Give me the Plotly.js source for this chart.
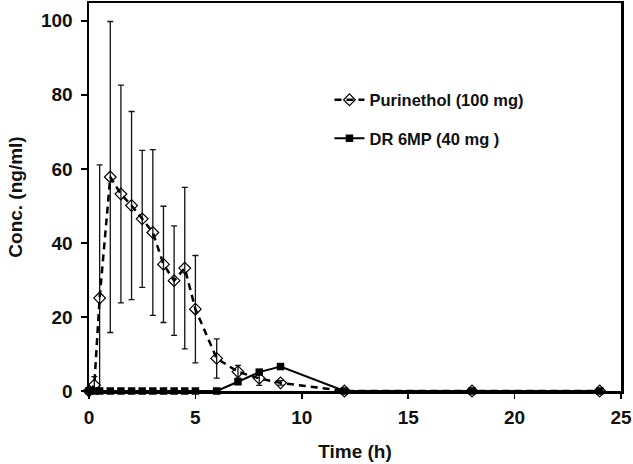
<!DOCTYPE html>
<html>
<head>
<meta charset="utf-8">
<script src="https://cdn.plot.ly/plotly-3.0.1.min.js"></script>
<style>html,body{margin:0;padding:0;background:#fff}#chart{width:633px;height:464px}</style>
</head>
<body>
<div id="chart"></div>
<script>
// Time points (h)
const timePur = [0, 0.25, 0.5, 1, 1.5, 2, 2.5, 3, 3.5, 4, 4.5, 5, 6, 7, 8, 9, 12, 18, 24];
const concPur = [0, 1.6, 25.1, 57.8, 53.2, 50.1, 46.5, 42.8, 34.2, 29.8, 33.2, 22.1, 8.8, 5.2, 3.4, 2.2, 0, 0, 0];
const sdPur   = [0, 2.3, 36, 42, 29.4, 25.4, 18.5, 22.4, 15.7, 14.8, 21.8, 14.5, 5.3, 1.7, 1.9, 0.6, 0, 0, 0];

const timeDR = [0, 0.25, 0.5, 1, 1.5, 2, 2.5, 3, 3.5, 4, 4.5, 5, 6, 7, 8, 9, 12, 18, 24];
const concDR = [0, 0, 0, 0, 0, 0, 0, 0, 0, 0, 0, 0, 0, 2.5, 5.1, 6.6, 0, 0, 0];

const nameDR = 'DR 6MP (40 mg )';
const namePur = 'Purinethol (100 mg)';

const xTicks = [0, 5, 10, 15, 20, 25];
const yTicks = [0, 20, 40, 60, 80, 100];

const fam = 'Arial, "Liberation Sans", sans-serif';

const traces = [
  {
    x: timePur, y: concPur, name: namePur, type: 'scatter', mode: 'lines+markers',
    legendgroup: 'a',
    line: {color: '#000', width: 2.5, dash: '7px,5px'},
    marker: {symbol: 'diamond-open', size: 9, color: '#000', line: {width: 1.2, color: '#000'}},
    error_y: {type: 'data', array: sdPur, visible: true, color: '#111', thickness: 1.3, width: 3},
    cliponaxis: false
  },
  {
    x: timeDR, y: concDR, name: nameDR, type: 'scatter', mode: 'lines+markers',
    legendgroup: 'b',
    line: {color: '#000', width: 2, dash: 'solid'},
    marker: {symbol: 'square', size: 7.5, color: '#000'},
    cliponaxis: false
  }
];

const layout = {
  width: 633, height: 464,
  margin: {l: 89, r: 12, t: 3, b: 73},
  paper_bgcolor: '#fff', plot_bgcolor: '#fff',
  showlegend: true,
  legend: {
    x: 0.452, y: 0.795, xanchor: 'left', yanchor: 'top',
    font: {family: fam, size: 16.5, color: '#111', weight: 'bold'},
    traceorder: 'grouped', tracegroupgap: 14,
    bgcolor: 'rgba(0,0,0,0)', itemwidth: 30
  },
  xaxis: {
    range: [0, 25], tickvals: xTicks, ticktext: xTicks.map(String),
    showgrid: false, zeroline: false,
    showline: true, linecolor: '#000', linewidth: 2.5, mirror: true,
    ticks: 'outside', ticklen: 5, tickwidth: 1.5, tickcolor: '#000',
    ticklabelstandoff: 3,
    tickfont: {family: fam, size: 19, color: '#111', weight: 'bold'},
    title: {text: 'Time (h)', font: {family: fam, size: 19, color: '#111', weight: 'bold'}, standoff: 18}
  },
  yaxis: {
    range: [0, 104.8], tickvals: yTicks, ticktext: yTicks.map(String),
    showgrid: false, zeroline: false,
    showline: true, linecolor: '#000', linewidth: 2.5, mirror: true,
    ticks: 'outside', ticklen: 6, tickwidth: 1.5, tickcolor: '#000',
    ticklabelstandoff: 4,
    tickfont: {family: fam, size: 19, color: '#111', weight: 'bold'},
    title: {text: 'Conc. (ng/ml)', font: {family: fam, size: 19, color: '#111', weight: 'bold'}, standoff: 14}
  }
};

Plotly.newPlot('chart', traces, layout, {displayModeBar: false, staticPlot: true});
</script>
</body>
</html>
